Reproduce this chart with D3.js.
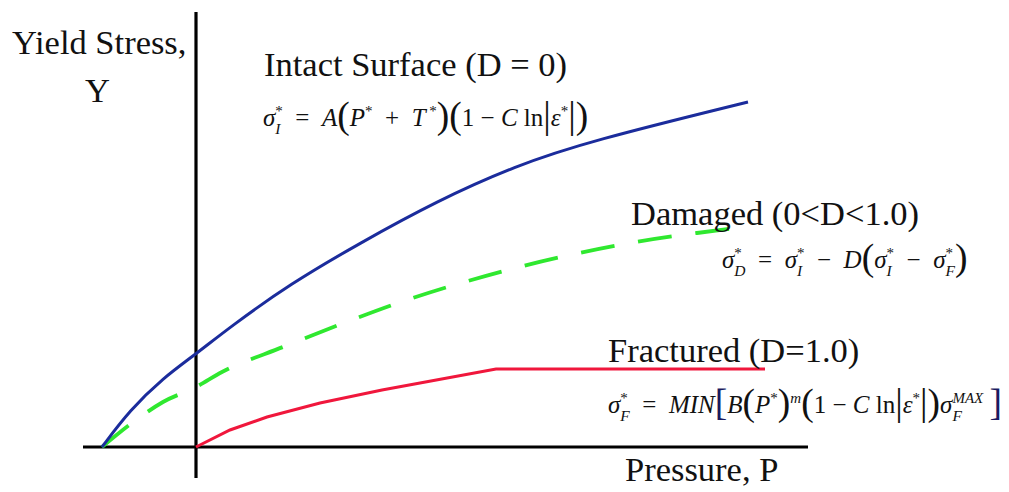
<!DOCTYPE html>
<html>
<head>
<meta charset="utf-8">
<script src="https://cdn.jsdelivr.net/npm/d3@7"></script>
<style>
  body { margin: 0; background: #fff; }
  svg { display: block; }
  text { fill: #111; }
</style>
</head>
<body>
<svg width="1009" height="492"></svg>
<script>
const svg = d3.select("svg");
const serif = "Liberation Serif";

// pressure (x) and yield stress (y) values, arbitrary units
const intactP = [-0.94, -0.66, -0.33, 0, 0.34, 0.94, 1.64, 2.41, 3.19, 3.94, 5.52];
const intactY = [0, 0.37, 0.69, 0.93, 1.2, 1.63, 2.04, 2.46, 2.81, 3.06, 3.45];

const damagedP = [-0.94, -0.6, -0.33, 0, 0.26, 0.87, 1.48, 2.05, 2.65, 3.23, 3.83, 4.40, 5.01, 5.33];
const damagedY = [0, 0.27, 0.45, 0.6, 0.75, 1.0, 1.24, 1.45, 1.64, 1.80, 1.94, 2.05, 2.14, 2.18];

const fracturedP = [0, 0.34, 0.71, 1.24, 1.86, 3.0, 5.69];
const fracturedY = [0, 0.17, 0.30, 0.44, 0.57, 0.78, 0.78];

const xAxisRange = [-1.13, 6.12];
const yAxisRange = [-0.31, 4.35];

const x = d3.scaleLinear().domain([-1.13, 6.12]).range([83, 808]);
const y = d3.scaleLinear().domain([0, 4.35]).range([447, 12]);

// Achsen
svg.append("line")
    .attr("x1", x(xAxisRange[0])).attr("x2", x(xAxisRange[1]))
    .attr("y1", y(0)).attr("y2", y(0))
    .attr("stroke", "#000").attr("stroke-width", 3.2);
svg.append("line")
    .attr("x1", x(0)).attr("x2", x(0))
    .attr("y1", y(yAxisRange[0])).attr("y2", y(yAxisRange[1]))
    .attr("stroke", "#000").attr("stroke-width", 3.2);

// Kurven
const smooth = d3.line().x(d => x(d[0])).y(d => y(d[1])).curve(d3.curveBasis);
const straight = d3.line().x(d => x(d[0])).y(d => y(d[1]));

const green = svg.append("path")
    .attr("d", d3.line().x(d => x(d[0])).y(d => y(d[1])).curve(d3.curveMonotoneX)(d3.zip(damagedP, damagedY)))
    .attr("fill", "none")
    .attr("stroke", "#2fe82f")
    .attr("stroke-width", 3.8);

// Strichmuster so anpassen, dass die Linie mit einem Strich endet
const len = green.node().getTotalLength();
const dash = 34;
const n = Math.round((len + 26) / (dash + 26));
const gap = (len - n * dash) / (n - 1);
green.attr("stroke-dasharray", `${dash},${gap}`);

svg.append("path")
    .attr("d", smooth(d3.zip(intactP, intactY)))
    .attr("fill", "none")
    .attr("stroke", "#1b2c9c")
    .attr("stroke-width", 3);

svg.append("path")
    .attr("d", straight(d3.zip(fracturedP, fracturedY)))
    .attr("fill", "none")
    .attr("stroke", "#f0173c")
    .attr("stroke-width", 3);

// Beschriftungen
function label(tx, ty, s, size) {
    svg.append("text")
        .attr("x", tx).attr("y", ty)
        .attr("font-family", serif)
        .attr("font-size", size)
        .text(s);
}
label(12, 54, "Yield Stress,", 34.5);
label(85, 102, "Y", 34.5);
label(264, 76, "Intact Surface (D = 0)", 34.5);
label(631, 225, "Damaged (0<D<1.0)", 34.5);
label(608, 362, "Fractured (D=1.0)", 34.5);
label(625, 481, "Pressure, P", 34.5);

// Formeln: jedes Teil {t, it, lv ('sup'|'sub'|'big'), back}
function formula(tx, ty, parts, base) {
    const t = svg.append("text").attr("x", tx).attr("y", ty)
        .attr("font-family", serif).attr("font-size", base);
    let cur = 0, lastW = 0, pending = 0;
    const off = { base: 0, sup: -base * 0.42, sub: base * 0.3, big: base * 0.08 };
    const fs = { base: base, sup: base * 0.6, sub: base * 0.62, big: base * 1.5 };
    parts.forEach(p => {
        const lv = p.lv || "base";
        const ts = t.append("tspan")
            .attr("dy", off[lv] - cur)
            .attr("font-size", fs[lv])
            .attr("font-style", p.it ? "italic" : "normal")
            .text(p.t);
        if (p.back) ts.attr("dx", -lastW);
        else if (pending > 0) ts.attr("dx", pending);
        if (p.fill) ts.style("fill", p.fill);
        cur = off[lv];
        const w = ts.node().getComputedTextLength();
        pending = p.back ? Math.max(0, lastW - w) : 0;
        lastW = w;
    });
}

const sig = (sub) => [
    { t: "σ", it: true },
    { t: "*", lv: "sup" },
    { t: sub, it: true, lv: "sub", back: true }
];
const eq = "\u2002=\u2002", minus = "\u2002−\u2002";

formula(263, 126, [
    ...sig("I"),
    { t: eq }, { t: "A", it: true }, { t: "(", lv: "big" },
    { t: "P", it: true }, { t: "*", lv: "sup" }, { t: "\u2002+\u2002" },
    { t: "T", it: true }, { t: " *", lv: "sup" }, { t: ")", lv: "big" },
    { t: "(", lv: "big" }, { t: "1 − " }, { t: "C", it: true }, { t: " ln" },
    { t: "|", lv: "big" }, { t: "ε", it: true }, { t: "*", lv: "sup" },
    { t: "|", lv: "big" }, { t: ")", lv: "big" }
], 25);

formula(722, 268, [
    ...sig("D"), { t: eq }, ...sig("I"), { t: minus }, { t: "D", it: true },
    { t: "(", lv: "big" }, ...sig("I"), { t: minus }, ...sig("F"), { t: ")", lv: "big" }
], 25);

formula(608, 413, [
    ...sig("F"), { t: eq }, { t: "MIN", it: true },
    { t: "[", lv: "big", fill: "#1a1a60" }, { t: "B", it: true }, { t: "(", lv: "big" },
    { t: "P", it: true }, { t: "*", lv: "sup" }, { t: ")", lv: "big" },
    { t: "m", it: true, lv: "sup" }, { t: "(", lv: "big" }, { t: "1 − " },
    { t: "C", it: true }, { t: " ln" }, { t: "|", lv: "big" },
    { t: "ε", it: true }, { t: "*", lv: "sup" }, { t: "|", lv: "big" },
    { t: ")", lv: "big" }, { t: "σ", it: true }, { t: "MAX", it: true, lv: "sup" },
    { t: "F", it: true, lv: "sub", back: true }, { t: " " },
    { t: "]", lv: "big", fill: "#1a1a60" }
], 25);
</script>
</body>
</html>
